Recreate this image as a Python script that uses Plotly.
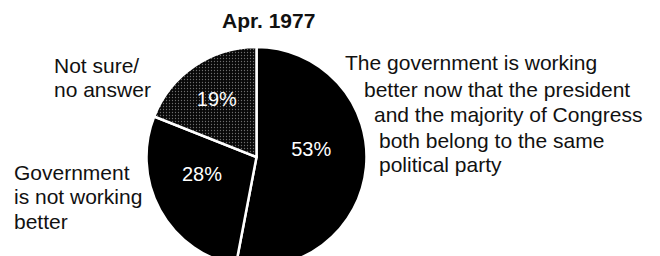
import plotly.graph_objects as go

# ---- data ----
categories = [
    "The government is working better now that the president and the majority of Congress both belong to the same political party",
    "Government is not working better",
    "Not sure/no answer",
]
values = [53, 28, 19]
title_text = "Apr. 1977"
label_yes = ["The government is working", "better now that the president",
             "and the majority of Congress", "both belong to the same", "political party"]
label_no = ["Government", "is not working", "better"]
label_unsure = ["Not sure/", "no answer"]

W, H = 660, 268
FONT = "Liberation Sans, Arial, Helvetica, sans-serif"
TXT = "#111111"

cx, cy, r = 256.5, 157.0, 110.0
fig = go.Figure()
fig.add_trace(go.Pie(
    labels=categories,
    values=values,
    sort=False,
    direction="clockwise",
    rotation=0,
    hole=0,
    textinfo="percent",
    texttemplate=["%{value}%<br>&nbsp;", "%{value}%<br>&nbsp;", "%{value}%"],
    textposition="inside",
    insidetextorientation="horizontal",
    insidetextfont=dict(family=FONT, size=20, color="white"),
    marker=dict(
        colors=["#000000", "#000000", "#0a0a0a"],
        line=dict(color="white", width=2.5),
        pattern=dict(shape=["", "", "."], bgcolor=["#000000", "#000000", "#080808"],
                     fgcolor="#6e6e6e", size=3, solidity=0.15, fillmode="replace"),
    ),
    domain=dict(x=[(cx - r) / W, (cx + r) / W], y=[(H - (cy + r)) / H, (H - (cy - r)) / H]),
    showlegend=False,
    hoverinfo="label+percent",
))

def px_x(x):
    return x / W

def px_y(y):
    return 1 - y / H

ann = []
ann.append(dict(text="<b>" + title_text + "</b>", x=px_x(268), y=px_y(20), xanchor="center", yanchor="middle",
                font=dict(family=FONT, size=21, color=TXT)))
yes_x = [343, 362, 372, 377, 377]
yes_y = [63, 89, 114, 140, 165]
for t, xx, yy in zip(label_yes, yes_x, yes_y):
    ann.append(dict(text=t, x=px_x(xx), y=px_y(yy), xanchor="left", yanchor="middle",
                    font=dict(family=FONT, size=21, color=TXT)))
for t, yy in zip(label_no, [172, 196, 221]):
    ann.append(dict(text=t, x=px_x(12), y=px_y(yy), xanchor="left", yanchor="middle",
                    font=dict(family=FONT, size=21, color=TXT)))
for t, yy in zip(label_unsure, [65, 90]):
    ann.append(dict(text=t, x=px_x(52), y=px_y(yy), xanchor="left", yanchor="middle",
                    font=dict(family=FONT, size=21, color=TXT)))
for a in ann:
    a.update(xref="paper", yref="paper", showarrow=False)

fig.update_layout(
    width=W, height=H,
    margin=dict(l=0, r=0, t=0, b=0),
    paper_bgcolor="white", plot_bgcolor="white",
    annotations=ann,
)

fig.write_html("out.html", config={"displayModeBar": False}, post_script=(
    "document.body.style.margin='0';document.body.style.overflow='hidden';"
    "document.documentElement.style.overflow='hidden';"))
